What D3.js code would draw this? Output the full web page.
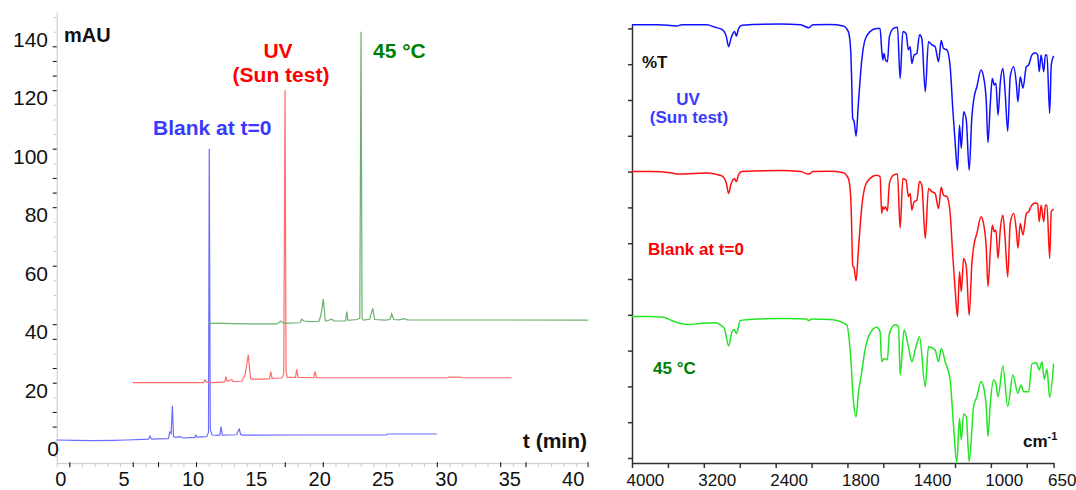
<!DOCTYPE html>
<html>
<head>
<meta charset="utf-8">
<script src="https://cdn.jsdelivr.net/npm/d3@7"></script>
<style>
body { margin: 0; background: #fff; }
svg { display: block; font-family: "Liberation Sans", Arial, sans-serif; }
</style>
</head>
<body>
<svg id="svg1" width="1076" height="490"></svg>
<script>
// HPLC chromatograms, [time (min), mAU]
var blankHplc = [[0,0.41],[1.5,0.3],[2.9,0.18],[4.5,0.3],[5.5,0.41],[6.8,0.6],[7.25,0.7],[7.36,1.78],[7.49,0.7],
  [8.0,0.8],[8.81,0.87],[8.94,3.15],[9.03,2.6],[9.13,12.1],[9.22,1.6],[9.4,1.3],[9.73,1.55],[9.99,1.1],[10.5,1.2],
  [10.9,1.3],[10.97,2.12],[11.08,1.4],[11.5,1.5],[11.84,1.6],[11.98,3],[12.04,100],[12.12,4],[12.26,2.12],[12.76,2.0],
  [12.88,2.2],[12.97,4.97],[13.07,2.1],[14.2,2.2],[14.3,3.3],[14.41,4.17],[14.52,2.3],[14.65,2.1],[19.2,2.12],
  [26.0,2.12],[26.1,2.46],[30.0,2.46]];
var uvHplc = [[6.0,20.0],[11.57,20.0],[11.7,20.9],[11.83,20.2],[12.36,20.0],[13.27,20.3],[13.36,22.1],[13.46,20.5],
  [13.81,21.0],[13.94,20.4],[14.6,20.5],[14.86,22.6],[15.12,29.5],[15.3,21.4],[15.39,21.2],[16.3,21.2],[16.8,21.4],
  [16.89,23.8],[17.0,21.5],[17.76,21.6],[17.92,23],[18.02,120],[18.1,24],[18.2,21.8],[18.85,21.8],[18.94,24.6],
  [19.05,21.8],[20.3,21.7],[20.39,23.8],[20.5,21.7],[30.8,21.7],[31.0,21.9],[31.8,21.9],[32,21.7],[35.9,21.7]];
var heatHplc = [[11.97,40.3],[13.0,40.3],[14.95,40.1],[17.37,40.1],[17.7,41.1],[17.9,40.3],[19.2,40.5],[19.34,41.7],
  [19.5,41.1],[20.0,40.9],[20.7,41.0],[20.84,42.8],[21.04,48.6],[21.2,41.1],[21.31,41.1],[21.7,41.7],[21.9,41.1],
  [22.8,41.1],[22.89,44.3],[22.98,41.3],[23.7,41.6],[23.92,42],[24.02,140],[24.1,42],[24.2,41.4],[24.7,41.7],
  [24.94,45.4],[25.1,41.6],[25.9,41.4],[26.3,41.6],[26.44,43.5],[26.6,41.6],[27.0,41.5],[27.41,41.9],[27.7,41.5],
  [41.96,41.4]];
var hplcXLabels = [0, 5, 10, 15, 20, 25, 30, 35, 40];
var hplcYLabels = [0, 20, 40, 60, 80, 100, 120, 140];
var hplcDarkX = [1, 6, 8, 11, 18, 21, 30, 35, 37, 41.9];
var hplcDarkY = [5, 10, 20, 25, 35, 40, 60, 80, 85, 90, 100, 120, 125, 130, 135];

// IR spectra, [wavenumber (cm-1), %T with stacking offset]
var uvIr = [[4000,121.0],[3700,121.0],[3501,120.7],[3445,121.0],[3166,121.0],[3073,120.3],[2998,119.7],[2950,117.7],
  [2924,114.9],[2898,117.2],[2875,118.6],[2857,119.1],[2838,117.9],[2812,120.0],[2775,120.9],[2346,121.2],[2123,121.0],
  [2030,120.2],[1993,121.0],[1897,121.1],[1823,120.7],[1795,119.1],[1782,114.0],[1776,104.7],[1771,94.9],[1763,94.0],
  [1752,89.9],[1739,99.1],[1720,111.2],[1702,116.8],[1674,119.1],[1637,120.0],[1618,120.0],[1609,114.0],[1603,111.2],
  [1596,113.0],[1588,111.2],[1577,110.7],[1566,117.7],[1543,120.0],[1521,120.3],[1506,106.0],[1491,119.1],[1473,118.6],
  [1460,114.0],[1450,114.9],[1441,110.2],[1428,112.6],[1413,113.0],[1398,118.2],[1385,117.2],[1366,102.3],[1348,116.3],
  [1329,115.4],[1311,114.9],[1292,110.7],[1277,116.6],[1264,114.4],[1245,114.0],[1227,109.3],[1212,97.2],[1199,87.9],
  [1186,80.4],[1175,93.0],[1165,86.5],[1152,96.7],[1137,94.4],[1121,80.4],[1106,95.3],[1093,100.9],[1078,103.7],
  [1055,108.4],[1041,106.5],[1026,100.0],[1016,88.1],[1003,99.1],[992,106.0],[981,104.2],[972,104.7],[960,95.8],
  [947,105.1],[933,108.8],[920,101.9],[906,91.3],[892,106.5],[873,109.3],[858,104.7],[849,99.5],[836,106.5],
  [821,103.3],[802,109.3],[789,109.8],[771,112.6],[752,113.2],[739,112.6],[730,107.9],[720,112.6],[705,107.9],
  [696,112.6],[687,112.6],[672,96.3],[663,109.8],[650,112.3]];
var blankIr = [[4000,80.0],[3800,80.0],[3550,79.6],[3500,79.3],[3300,79.5],[3166,79.6],[3073,79.3],[2998,78.8],
  [2950,76.8],[2924,73.9],[2898,76.5],[2875,77.7],[2857,78.0],[2838,77.2],[2812,79.2],[2775,80.0],[2346,80.3],
  [2123,80.0],[2030,79.3],[1993,80.0],[1897,80.1],[1823,79.7],[1795,78.1],[1782,73.0],[1776,63.7],[1771,53.9],
  [1763,53.0],[1752,49.5],[1739,58.1],[1720,70.2],[1702,75.8],[1674,78.1],[1637,79.0],[1618,78.6],[1609,68.3],
  [1603,70.2],[1596,69.5],[1588,70.2],[1577,69.0],[1566,76.7],[1543,79.0],[1521,79.3],[1506,64.2],[1491,78.1],
  [1473,77.6],[1460,73.0],[1450,73.9],[1441,69.3],[1428,71.6],[1413,72.0],[1398,77.2],[1385,76.2],[1366,61.3],
  [1348,75.3],[1329,74.4],[1311,73.9],[1292,69.7],[1277,75.6],[1264,73.4],[1245,73.0],[1227,68.3],[1212,56.2],
  [1199,46.9],[1186,39.5],[1175,52.0],[1165,46.5],[1152,55.7],[1137,53.4],[1121,39.9],[1106,54.3],[1093,59.9],
  [1078,62.7],[1055,67.4],[1041,65.5],[1026,59.0],[1016,47.9],[1003,58.1],[992,65.0],[981,63.2],[972,63.7],
  [960,55.8],[947,64.1],[933,67.8],[920,60.9],[906,50.6],[892,65.5],[873,68.3],[858,63.7],[849,58.6],[836,65.5],
  [821,62.3],[802,68.3],[789,68.8],[771,70.7],[752,71.2],[739,71.0],[730,66.0],[720,70.6],[705,66.0],[696,70.6],
  [687,70.6],[672,55.8],[663,68.8],[650,69.5]];
var heatIr = [[4000,39.5],[3800,39.5],[3650,39.3],[3560,38.4],[3464,37.6],[3389,37.3],[3240,37.6],[3073,37.8],
  [3017,37.2],[2972,36.2],[2924,31.3],[2886,35.3],[2860,35.9],[2838,34.8],[2793,38.4],[2600,38.8],[2346,39.0],
  [2200,38.9],[2060,38.8],[2030,38.4],[2000,38.8],[1897,38.7],[1804,37.2],[1782,28.3],[1767,16.2],[1752,11.5],
  [1739,18.1],[1720,24.1],[1702,30.2],[1674,34.8],[1637,36.5],[1618,35.3],[1609,26.9],[1596,27.8],[1577,27.4],
  [1566,34.8],[1534,37.2],[1515,36.7],[1506,23.2],[1484,35.8],[1460,31.1],[1441,26.9],[1422,30.2],[1398,33.9],
  [1366,19.9],[1348,31.1],[1311,30.2],[1292,26.9],[1277,30.6],[1255,26.9],[1227,21.8],[1208,8.8],[1190,-1.3],
  [1175,11.1],[1165,5.0],[1152,12.3],[1137,11.5],[1121,-1.0],[1096,14.4],[1078,17.1],[1055,21.3],[1041,19.9],
  [1026,14.4],[1016,6.0],[1003,15.3],[985,21.8],[972,20.9],[960,17.1],[933,25.7],[906,14.4],[877,23.2],[849,18.1],
  [832,20.4],[817,18.5],[789,18.5],[771,26.3],[746,26.6],[730,24.6],[715,26.9],[702,22.0],[687,24.8],[672,16.9],
  [650,26.4]];
var irTicks = [4000, 3600, 3200, 2800, 2400, 2000, 1800, 1600, 1400, 1200, 1000, 800, 650];
var irXLabels = [4000, 3200, 2400, 1800, 1400, 1000, 650];
var irYTicks = [0, 10, 20, 30, 40, 50, 60, 70, 80, 90, 100, 110, 120];

var svg = d3.select("#svg1");

// ---------- left: chromatograms ----------
var x = d3.scaleLinear().domain([0, 41.9]).range([56.7, 587.6]);
var y = d3.scaleLinear().domain([0, 140]).range([441.2, 31.7]);
var yFull = d3.scaleLinear().domain([-7.5, 146.7]).range([y(-7.5), y(146.7)]);

var left = svg.append("g");

var gy = left.append("g")
  .attr("transform", "translate(" + x(0) + ",0)")
  .call(d3.axisLeft(yFull).tickValues(d3.range(-5, 146, 5)).tickSize(3).tickSizeOuter(0).tickFormat(""));
gy.selectAll("path, line").attr("stroke", "#c8c8c8");

left.append("g")
  .attr("transform", "translate(" + x(0) + ",0)")
  .call(d3.axisLeft(y).tickValues(hplcDarkY).tickSize(4).tickFormat(""))
  .call(function (g) { g.select(".domain").remove(); })
  .selectAll("line").attr("stroke", "#111");

var gx = left.append("g")
  .attr("transform", "translate(0," + yFull(-7.5) + ")")
  .call(d3.axisBottom(x).tickValues(d3.range(0, 42, 1)).tickSize(4).tickSizeOuter(0).tickFormat(""));
gx.selectAll("path, line").attr("stroke", "#c8c8c8");

left.append("g")
  .attr("transform", "translate(0," + (yFull(-7.5) - 1) + ")")
  .call(d3.axisBottom(x).tickValues(hplcDarkX).tickSize(5).tickFormat(""))
  .call(function (g) { g.select(".domain").remove(); })
  .selectAll("line").attr("stroke", "#111");

left.selectAll(".ylab")
  .data(hplcYLabels)
  .enter().append("text")
  .attr("class", "ylab")
  .attr("x", function (d) { return d == 0 ? 59 : 48; })
  .attr("y", function (d) { return y(d) + 15; })
  .attr("text-anchor", "end")
  .style("font-size", "21px")
  .attr("fill", "#111")
  .text(function (d) { return d; });

left.selectAll(".xlab")
  .data(hplcXLabels)
  .enter().append("text")
  .attr("class", "xlab")
  .attr("x", function (d) { return x(d) - 1.5; })
  .attr("y", 486)
  .style("font-size", "20px")
  .attr("fill", "#111")
  .text(function (d) { return d; });

var line = d3.line().x(function (d) { return x(d[0]); }).y(function (d) { return y(d[1]); });

left.append("path").datum(blankHplc).attr("d", line)
  .attr("fill", "none").attr("stroke", "#6c6cff").attr("stroke-width", 1.2);
left.append("path").datum(uvHplc).attr("d", line)
  .attr("fill", "none").attr("stroke", "#ff6c6c").attr("stroke-width", 1.2);
left.append("path").datum(heatHplc).attr("d", line)
  .attr("fill", "none").attr("stroke", "#6cb06c").attr("stroke-width", 1.2);

left.append("text").attr("x", 64).attr("y", 42)
  .style("font-size", "20px").style("font-weight", "bold").attr("fill", "#111").text("mAU");
left.append("text").attr("x", 153).attr("y", 135)
  .style("font-size", "21px").style("font-weight", "bold").attr("fill", "#3a3aff").text("Blank at t=0");
left.append("text").attr("x", 278).attr("y", 58).attr("text-anchor", "middle")
  .style("font-size", "21px").style("font-weight", "bold").attr("fill", "#ff0000").text("UV");
left.append("text").attr("x", 281).attr("y", 82).attr("text-anchor", "middle")
  .style("font-size", "21px").style("font-weight", "bold").attr("fill", "#ff0000").text("(Sun test)");
left.append("text").attr("x", 373).attr("y", 58)
  .style("font-size", "21px").style("font-weight", "bold").attr("fill", "#008000").text("45 \u00B0C");
left.append("text").attr("x", 587).attr("y", 448).attr("text-anchor", "end")
  .style("font-size", "21px").style("font-weight", "bold").attr("fill", "#111").text("t (min)");

// ---------- right: IR spectra ----------
var xi = d3.scaleLinear().domain([4000, 2000, 650]).range([632, 811.6, 1053.6]);
var yi = d3.scaleLinear().domain([0, 120]).range([458, 28.4]);
var yiFull = d3.scaleLinear().domain([-1.4, 121.2]).range([yi(-1.4), yi(121.2)]);

var right = svg.append("g");

right.append("g")
  .attr("transform", "translate(" + xi(4000) + ",0)")
  .call(d3.axisLeft(yiFull).tickValues(irYTicks).tickSize(4).tickSizeOuter(0).tickFormat(""))
  .selectAll("path, line").attr("stroke", "#333").attr("stroke-width", 1.5);

right.append("g")
  .attr("transform", "translate(0," + yiFull(-1.4) + ")")
  .call(d3.axisBottom(xi).tickValues(irTicks).tickSize(5).tickSizeOuter(0).tickFormat(""))
  .selectAll("path, line").attr("stroke", "#333").attr("stroke-width", 1.5);

right.selectAll(".irlab")
  .data(irXLabels)
  .enter().append("text")
  .attr("class", "irlab")
  .attr("x", function (d) { return xi(d) - 5.5; })
  .attr("y", 485.5)
  .style("font-size", "17px")
  .attr("fill", "#111")
  .text(function (d) { return d; });

var irLine = d3.line().curve(d3.curveMonotoneX)
  .x(function (d) { return xi(d[0]); }).y(function (d) { return yi(d[1]); });

right.append("path").datum(uvIr).attr("d", irLine)
  .attr("fill", "none").attr("stroke", "#1010ff").attr("stroke-width", 1.5);
right.append("path").datum(blankIr).attr("d", irLine)
  .attr("fill", "none").attr("stroke", "#ff1010").attr("stroke-width", 1.5);
right.append("path").datum(heatIr).attr("d", irLine)
  .attr("fill", "none").attr("stroke", "#22e622").attr("stroke-width", 1.5);

right.append("text").attr("x", 642).attr("y", 68)
  .style("font-size", "17px").style("font-weight", "bold").attr("fill", "#111").text("%T");
right.append("text").attr("x", 688).attr("y", 105).attr("text-anchor", "middle")
  .style("font-size", "17px").style("font-weight", "bold").attr("fill", "#3a3aff").text("UV");
right.append("text").attr("x", 689).attr("y", 123).attr("text-anchor", "middle")
  .style("font-size", "17px").style("font-weight", "bold").attr("fill", "#3a3aff").text("(Sun test)");
right.append("text").attr("x", 648).attr("y", 255)
  .style("font-size", "17px").style("font-weight", "bold").attr("fill", "#ff0000").text("Blank at t=0");
right.append("text").attr("x", 653).attr("y", 374)
  .style("font-size", "17px").style("font-weight", "bold").attr("fill", "#008000").text("45 \u00B0C");

var cm = right.append("text").attr("x", 1023).attr("y", 447)
  .style("font-size", "17px").style("font-weight", "bold").attr("fill", "#111");
cm.append("tspan").text("cm");
cm.append("tspan").attr("dy", -7).style("font-size", "11px").text("-1");
</script>
</body>
</html>
